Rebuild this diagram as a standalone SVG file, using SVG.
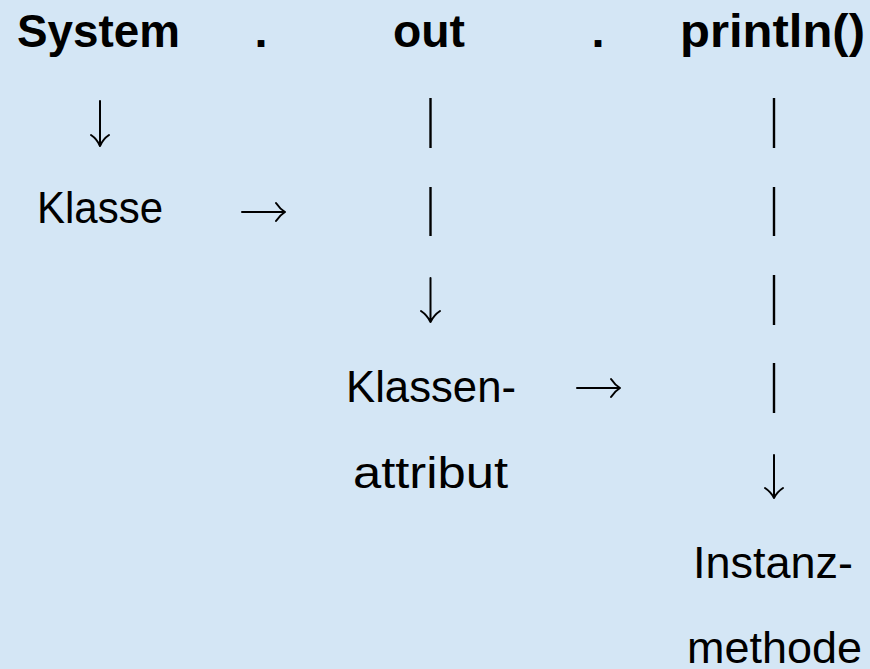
<svg xmlns="http://www.w3.org/2000/svg" width="870" height="669" viewBox="0 0 870 669">
  <style>
    .head { font-family: "Liberation Sans", Arial, sans-serif; font-weight: bold; font-size: 47px; fill: #000; text-anchor: middle; }
    .lbl { font-family: "Liberation Sans", Arial, sans-serif; font-size: 45px; fill: #000; text-anchor: middle; }
    .bar { stroke: #000; stroke-width: 2.4; fill: none; }
    .arr { stroke: #000; stroke-width: 2; fill: none; stroke-linecap: round; stroke-linejoin: round; }
  </style>
  <rect width="870" height="669" fill="#D4E6F5"/>

  <!-- header row: System . out . println() -->
  <g id="system"><text class="head" x="98.5" y="47" textLength="163" lengthAdjust="spacingAndGlyphs">System</text></g>
  <g id="dot1"><text class="head" x="261" y="47">.</text></g>
  <g id="out"><text class="head" x="429" y="47" textLength="72" lengthAdjust="spacingAndGlyphs">out</text></g>
  <g id="dot2"><text class="head" x="598" y="47">.</text></g>
  <g id="println"><text class="head" x="772.5" y="47" textLength="185" lengthAdjust="spacingAndGlyphs">println()</text></g>

  <!-- descriptions -->
  <g id="klasse"><text class="lbl" x="100" y="223" textLength="126" lengthAdjust="spacingAndGlyphs">Klasse</text></g>
  <g id="klassenattribut">
    <text class="lbl" x="431" y="402" textLength="170" lengthAdjust="spacingAndGlyphs">Klassen-</text>
    <text class="lbl" x="430.5" y="488" textLength="155" lengthAdjust="spacingAndGlyphs">attribut</text>
  </g>
  <g id="instanzmethode">
    <text class="lbl" x="773" y="578" textLength="160" lengthAdjust="spacingAndGlyphs">Instanz-</text>
    <text class="lbl" x="774.5" y="663" textLength="175" lengthAdjust="spacingAndGlyphs">methode</text>
  </g>

  <g id="connectors">
    <!-- System down to Klasse -->
    <path class="arr" d="M100,101 V146 M91,135 Q97,139 100,146 Q103,139 109,135"/>
    <!-- Klasse to the right -->
    <path class="arr" d="M242,212 H285 M276,203 Q280,209 285,212 Q280,215 276,221"/>
    <!-- out column -->
    <line class="bar" x1="430.5" y1="98" x2="430.5" y2="148"/>
    <line class="bar" x1="430.5" y1="187" x2="430.5" y2="236"/>
    <path class="arr" d="M430.5,278 V322 M421,311 Q427,315 430.5,322 Q434,315 440,311"/>
    <!-- Klassen- to the right -->
    <path class="arr" d="M577,388 H620 M611,379 Q615,385 620,388 Q615,391 611,397"/>
    <!-- println() column -->
    <line class="bar" x1="774" y1="98" x2="774" y2="148"/>
    <line class="bar" x1="774" y1="187" x2="774" y2="236"/>
    <line class="bar" x1="774" y1="275" x2="774" y2="325"/>
    <line class="bar" x1="774" y1="363" x2="774" y2="413"/>
    <path class="arr" d="M774,455 V498 M765,488 Q771,492 774,498 Q777,492 783,488"/>
  </g>
</svg>
